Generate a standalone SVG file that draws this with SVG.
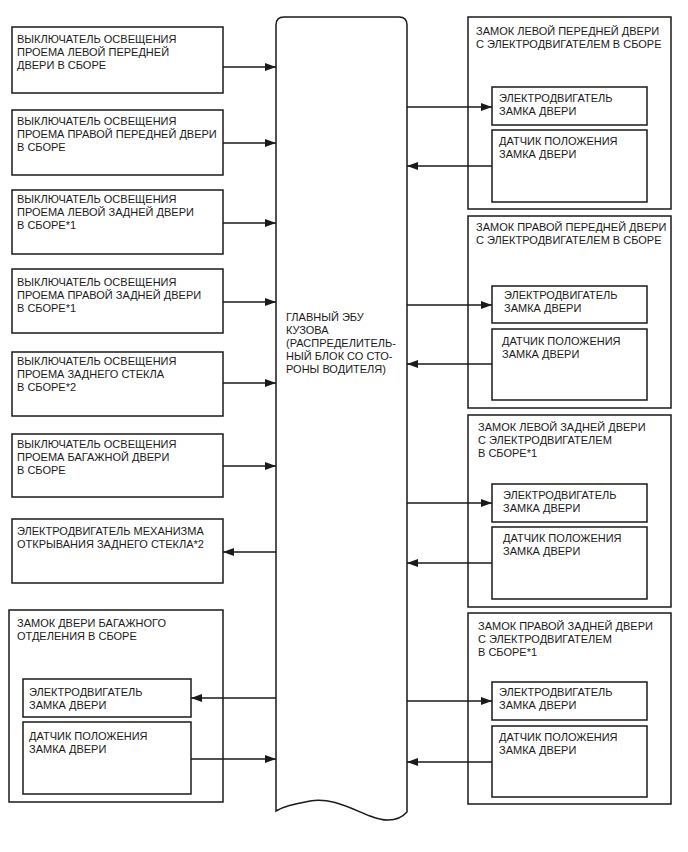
<svg xmlns="http://www.w3.org/2000/svg" width="688" height="852" viewBox="0 0 688 852">
<style>
.b{fill:#fff;stroke:#1a1a1a;stroke-width:1.5}
.t{font-family:"Liberation Sans",Arial,sans-serif;font-size:11px;fill:#1a1a1a}
.c{fill:none;stroke:#1a1a1a;stroke-width:1.5}
</style>
<defs>
<marker id="a" markerWidth="12" markerHeight="10" refX="11" refY="5" orient="auto" markerUnits="userSpaceOnUse">
<path d="M0,1 L11,5 L0,9 Z" fill="#1a1a1a"/>
</marker>
</defs>
<rect width="688" height="852" fill="#fff"/>

<g id="ecu">
<path class="b" d="M276,811 L276,25 Q276,17 284,17 L399,17 Q407,17 407,25 L407,812 C398,822 385,822 370,816 C350,808 330,797 310,801 C295,804 284,806 276,811 Z"/>
<text class="t" x="286" y="321">ГЛАВНЫЙ ЭБУ</text>
<text class="t" x="286" y="334">КУЗОВА</text>
<text class="t" x="286" y="347">(РАСПРЕДЕЛИТЕЛЬ-</text>
<text class="t" x="286" y="360">НЫЙ БЛОК СО СТО-</text>
<text class="t" x="286" y="373">РОНЫ ВОДИТЕЛЯ)</text>
</g>

<g id="sw1">
<rect class="b" x="12" y="27" width="211" height="66"/>
<text class="t" x="17" y="43">ВЫКЛЮЧАТЕЛЬ ОСВЕЩЕНИЯ</text>
<text class="t" x="17" y="56">ПРОЕМА ЛЕВОЙ ПЕРЕДНЕЙ</text>
<text class="t" x="17" y="69">ДВЕРИ В СБОРЕ</text>
</g>
<g id="sw2">
<rect class="b" x="12" y="110" width="211" height="65"/>
<text class="t" x="17" y="125">ВЫКЛЮЧАТЕЛЬ ОСВЕЩЕНИЯ</text>
<text class="t" x="17" y="138">ПРОЕМА ПРАВОЙ ПЕРЕДНЕЙ ДВЕРИ</text>
<text class="t" x="17" y="151">В СБОРЕ</text>
</g>
<g id="sw3">
<rect class="b" x="12" y="190" width="211" height="64"/>
<text class="t" x="17" y="203">ВЫКЛЮЧАТЕЛЬ ОСВЕЩЕНИЯ</text>
<text class="t" x="17" y="216">ПРОЕМА ЛЕВОЙ ЗАДНЕЙ ДВЕРИ</text>
<text class="t" x="17" y="229">В СБОРЕ*1</text>
</g>
<g id="sw4">
<rect class="b" x="12" y="269" width="211" height="64"/>
<text class="t" x="17" y="286">ВЫКЛЮЧАТЕЛЬ ОСВЕЩЕНИЯ</text>
<text class="t" x="17" y="299">ПРОЕМА ПРАВОЙ ЗАДНЕЙ ДВЕРИ</text>
<text class="t" x="17" y="312">В СБОРЕ*1</text>
</g>
<g id="sw5">
<rect class="b" x="12" y="352" width="211" height="64"/>
<text class="t" x="17" y="365">ВЫКЛЮЧАТЕЛЬ ОСВЕЩЕНИЯ</text>
<text class="t" x="17" y="378">ПРОЕМА ЗАДНЕГО СТЕКЛА</text>
<text class="t" x="17" y="391">В СБОРЕ*2</text>
</g>
<g id="sw6">
<rect class="b" x="12" y="434" width="211" height="63"/>
<text class="t" x="17" y="448">ВЫКЛЮЧАТЕЛЬ ОСВЕЩЕНИЯ</text>
<text class="t" x="17" y="461">ПРОЕМА БАГАЖНОЙ ДВЕРИ</text>
<text class="t" x="17" y="474">В СБОРЕ</text>
</g>
<g id="motor-glass">
<rect class="b" x="12" y="519" width="211" height="64"/>
<text class="t" x="17" y="535">ЭЛЕКТРОДВИГАТЕЛЬ МЕХАНИЗМА</text>
<text class="t" x="17" y="548">ОТКРЫВАНИЯ ЗАДНЕГО СТЕКЛА*2</text>
</g>
<g id="trunk-lock">
<rect class="b" x="9" y="610" width="214" height="192"/>
<text class="t" x="17" y="627">ЗАМОК ДВЕРИ БАГАЖНОГО</text>
<text class="t" x="17" y="640">ОТДЕЛЕНИЯ В СБОРЕ</text>
<g id="trunk-motor">
<rect class="b" x="23" y="679" width="168" height="38"/>
<text class="t" x="29" y="696">ЭЛЕКТРОДВИГАТЕЛЬ</text>
<text class="t" x="29" y="709">ЗАМКА ДВЕРИ</text>
</g>
<g id="trunk-sensor">
<rect class="b" x="23" y="722" width="168" height="72"/>
<text class="t" x="29" y="740">ДАТЧИК ПОЛОЖЕНИЯ</text>
<text class="t" x="29" y="753">ЗАМКА ДВЕРИ</text>
</g>
</g>

<g id="lock-fl">
<rect class="b" x="468" y="17" width="203" height="192"/>
<text class="t" x="476" y="35">ЗАМОК ЛЕВОЙ ПЕРЕДНЕЙ ДВЕРИ</text>
<text class="t" x="476" y="48">С ЭЛЕКТРОДВИГАТЕЛЕМ В СБОРЕ</text>
<g id="lock-fl-motor">
<rect class="b" x="492" y="87" width="155" height="38"/>
<text class="t" x="499" y="102">ЭЛЕКТРОДВИГАТЕЛЬ</text>
<text class="t" x="499" y="115">ЗАМКА ДВЕРИ</text>
</g>
<g id="lock-fl-sensor">
<rect class="b" x="492" y="130" width="155" height="72"/>
<text class="t" x="499" y="145">ДАТЧИК ПОЛОЖЕНИЯ</text>
<text class="t" x="499" y="158">ЗАМКА ДВЕРИ</text>
</g>
</g>
<g id="lock-fr">
<rect class="b" x="468" y="216" width="203" height="192"/>
<text class="t" x="476" y="231">ЗАМОК ПРАВОЙ ПЕРЕДНЕЙ ДВЕРИ</text>
<text class="t" x="476" y="244">С ЭЛЕКТРОДВИГАТЕЛЕМ В СБОРЕ</text>
<g id="lock-fr-motor">
<rect class="b" x="492" y="286" width="155" height="37"/>
<text class="t" x="504" y="299">ЭЛЕКТРОДВИГАТЕЛЬ</text>
<text class="t" x="504" y="312">ЗАМКА ДВЕРИ</text>
</g>
<g id="lock-fr-sensor">
<rect class="b" x="492" y="329" width="155" height="71"/>
<text class="t" x="502" y="345">ДАТЧИК ПОЛОЖЕНИЯ</text>
<text class="t" x="502" y="358">ЗАМКА ДВЕРИ</text>
</g>
</g>
<g id="lock-rl">
<rect class="b" x="468" y="415" width="203" height="192"/>
<text class="t" x="478" y="431">ЗАМОК ЛЕВОЙ ЗАДНЕЙ ДВЕРИ</text>
<text class="t" x="478" y="444">С ЭЛЕКТРОДВИГАТЕЛЕМ</text>
<text class="t" x="478" y="457">В СБОРЕ*1</text>
<g id="lock-rl-motor">
<rect class="b" x="492" y="484" width="155" height="38"/>
<text class="t" x="503" y="499">ЭЛЕКТРОДВИГАТЕЛЬ</text>
<text class="t" x="503" y="512">ЗАМКА ДВЕРИ</text>
</g>
<g id="lock-rl-sensor">
<rect class="b" x="492" y="527" width="155" height="72"/>
<text class="t" x="503" y="542">ДАТЧИК ПОЛОЖЕНИЯ</text>
<text class="t" x="503" y="555">ЗАМКА ДВЕРИ</text>
</g>
</g>
<g id="lock-rr">
<rect class="b" x="468" y="613" width="203" height="191"/>
<text class="t" x="478" y="630">ЗАМОК ПРАВОЙ ЗАДНЕЙ ДВЕРИ</text>
<text class="t" x="478" y="643">С ЭЛЕКТРОДВИГАТЕЛЕМ</text>
<text class="t" x="478" y="656">В СБОРЕ*1</text>
<g id="lock-rr-motor">
<rect class="b" x="492" y="682" width="155" height="38"/>
<text class="t" x="499" y="696">ЭЛЕКТРОДВИГАТЕЛЬ</text>
<text class="t" x="499" y="709">ЗАМКА ДВЕРИ</text>
</g>
<g id="lock-rr-sensor">
<rect class="b" x="492" y="726" width="155" height="71"/>
<text class="t" x="499" y="741">ДАТЧИК ПОЛОЖЕНИЯ</text>
<text class="t" x="499" y="754">ЗАМКА ДВЕРИ</text>
</g>
</g>

<g id="connectors">
<line class="c" x1="223" y1="67" x2="276" y2="67" marker-end="url(#a)"/>
<line class="c" x1="223" y1="143" x2="276" y2="143" marker-end="url(#a)"/>
<line class="c" x1="223" y1="223" x2="276" y2="223" marker-end="url(#a)"/>
<line class="c" x1="223" y1="302" x2="276" y2="302" marker-end="url(#a)"/>
<line class="c" x1="223" y1="383" x2="276" y2="383" marker-end="url(#a)"/>
<line class="c" x1="223" y1="466" x2="276" y2="466" marker-end="url(#a)"/>
<line class="c" x1="276" y1="552" x2="223" y2="552" marker-end="url(#a)"/>
<line class="c" x1="276" y1="698" x2="191" y2="698" marker-end="url(#a)"/>
<line class="c" x1="191" y1="759" x2="276" y2="759" marker-end="url(#a)"/>
<line class="c" x1="407" y1="107" x2="492" y2="107" marker-end="url(#a)"/>
<line class="c" x1="492" y1="166" x2="407" y2="166" marker-end="url(#a)"/>
<line class="c" x1="407" y1="305" x2="492" y2="305" marker-end="url(#a)"/>
<line class="c" x1="492" y1="364" x2="407" y2="364" marker-end="url(#a)"/>
<line class="c" x1="407" y1="503" x2="492" y2="503" marker-end="url(#a)"/>
<line class="c" x1="492" y1="563" x2="407" y2="563" marker-end="url(#a)"/>
<line class="c" x1="407" y1="701" x2="492" y2="701" marker-end="url(#a)"/>
<line class="c" x1="492" y1="762" x2="407" y2="762" marker-end="url(#a)"/>
</g>
</svg>
